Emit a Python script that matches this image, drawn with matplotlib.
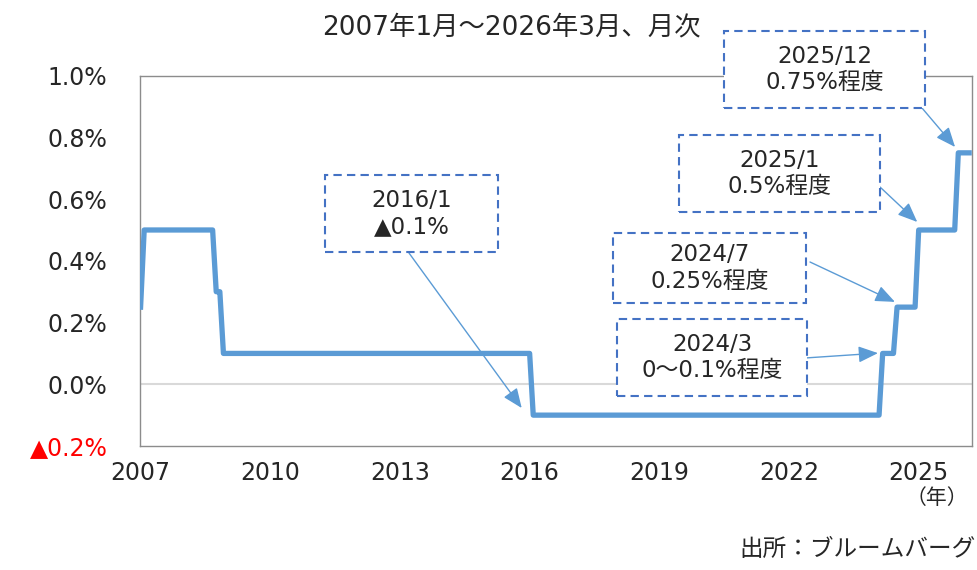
import numpy as np
import pandas as pd
import matplotlib
matplotlib.use("Agg")
from matplotlib import pyplot as plt
from matplotlib.patches import Rectangle

plt.rcParams['font.family'] = ['DejaVu Sans', 'Noto Sans CJK JP']

# policy rate changes (month the new level first shows, %)
change_months = ["2007-01", "2007-02", "2008-10", "2008-12", "2016-02",
                 "2024-03", "2024-07", "2025-01", "2025-12"]
change_rates = [0.25, 0.5, 0.3, 0.1, -0.1, 0.1, 0.25, 0.5, 0.75]
start_month = "2007-01"
end_month = "2026-03"

year_ticks = [2007, 2010, 2013, 2016, 2019, 2022, 2025]
y_ticks = [-0.2, 0.0, 0.2, 0.4, 0.6, 0.8, 1.0]

notes = ["2016/1\n▲0.1%", "2024/3\n0～0.1%程度", "2024/7\n0.25%程度",
         "2025/1\n0.5%程度", "2025/12\n0.75%程度"]
# box: left, top, right, bottom in pixels (top-left origin)
note_boxes = [(325, 175, 498, 252), (617, 319, 807, 396), (613, 233, 806, 303),
              (679, 135, 880, 212), (724, 31, 925, 108)]
arrow_from = [(409, 253), (805, 358), (810, 262), (880, 187), (922, 108)]
# arrow tip in data coords (month index, %)
arrow_to = [(105.8, -0.077), (204.7, 0.101), (209.4, 0.267), (215.6, 0.526), (226.1, 0.769)]

months = pd.period_range(start_month, end_month, freq="M")
s = pd.Series(change_rates, index=pd.PeriodIndex(change_months, freq="M"))
rate = s.reindex(months).ffill().values
x = np.arange(len(months))

W, H = 978, 570
fig = plt.figure(figsize=(W / 100, H / 100), dpi=100)
ax = fig.add_axes([139.5 / W, 1 - 446 / H, (972 - 139.5) / W, (446 - 75.7) / H])


def fp(px, py):
    return px / W, 1 - py / H


ax.axhline(0, color="#d9d9d9", lw=1.5, zorder=1)
ax.plot(x, rate, color="#5b9bd5", lw=3.8, solid_joinstyle="round", zorder=3)

ax.set_xlim(-0.3, 230.8)
ax.set_ylim(-0.2, 1.0)
xt = [(yr - 2007) * 12 for yr in year_ticks]
ax.set_xticks(xt)
ax.set_xticklabels([str(yr) for yr in year_ticks])
ax.set_yticks(y_ticks)
ylab = []
for v in y_ticks:
    ylab.append("▲%.1f%%" % abs(v) if v < 0 else "%.1f%%" % v)
ax.set_yticklabels(ylab)
ax.tick_params(length=0, labelsize=17, colors="#262626")
ax.tick_params(axis="x", pad=11)
ax.tick_params(axis="y", pad=23)
for t, v in zip(ax.get_yticklabels(), y_ticks):
    if v < 0:
        t.set_color("red")
for sp in ax.spines.values():
    sp.set_color("#8c8c8c")
    sp.set_linewidth(1)

for txt, (l, t, r, b), (sx, sy), tip in zip(notes, note_boxes, arrow_from, arrow_to):
    ax.annotate("", xy=tip, xycoords="data", xytext=fp(sx, sy), textcoords="figure fraction",
                arrowprops=dict(arrowstyle="-|>,head_length=0.6,head_width=0.25",
                                mutation_scale=20, color="#5b9bd5", lw=1,
                                shrinkA=0, shrinkB=0), zorder=4)
    x0, y0 = fp(l, b)
    x1, y1 = fp(r, t)
    rect = Rectangle((x0, y0), x1 - x0, y1 - y0, transform=fig.transFigure,
                     facecolor="white", edgecolor="#4472c4", lw=1.5,
                     linestyle=(0, (4, 2.5)), zorder=5)
    fig.add_artist(rect)
    cx, cy = fp((l + r) / 2, (t + b) / 2)
    fig.text(cx, cy, txt, ha="center", va="center", fontsize=16.5, color="#262626",
             linespacing=1.2, zorder=6)

fig.text(*fp(511, 27), "2007年1月～2026年3月、月次", ha="center", va="center",
         fontsize=19, color="#262626")
fig.text(*fp(968, 498), "（年）", ha="right", va="center", fontsize=15, color="#262626")
fig.text(*fp(976, 549), "出所：ブルームバーグ", ha="right", va="center", fontsize=17,
         color="#262626")

fig.savefig("out.png", dpi=100)
